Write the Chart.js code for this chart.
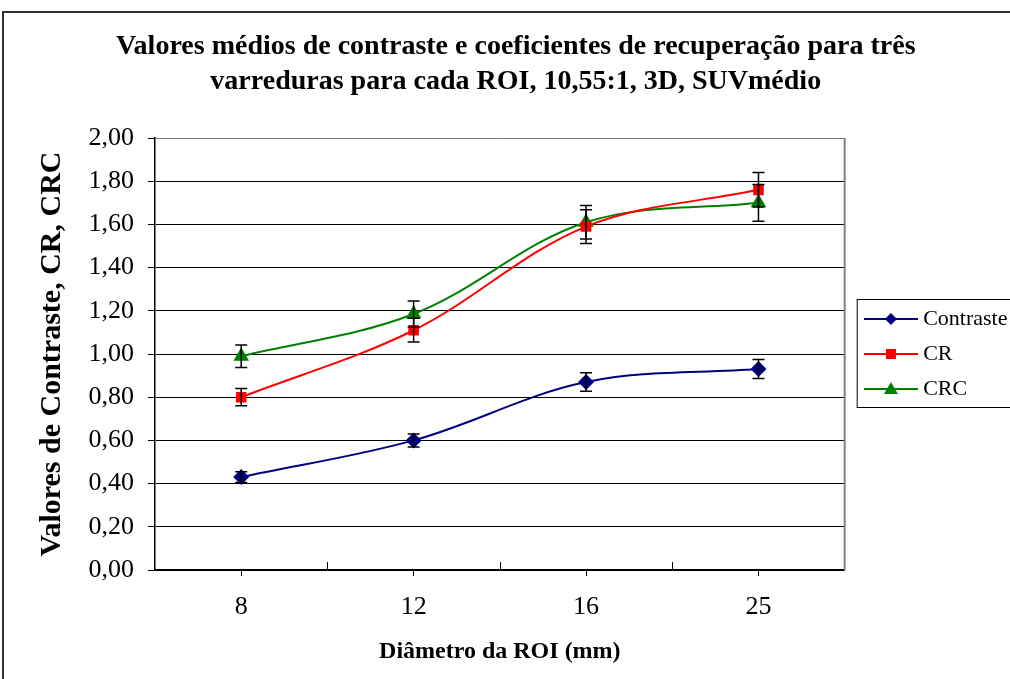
<!DOCTYPE html>
<html lang="pt">
<head>
<meta charset="utf-8">
<title>Valores médios de contraste e coeficientes de recuperação</title>
<script src="https://cdn.jsdelivr.net/npm/chart.js@4.4.1/dist/chart.umd.min.js"></script>
<style>
  html, body { margin: 0; padding: 0; background: #fff; }
  #wrap { position: relative; width: 1010px; height: 679px; }
</style>
</head>
<body>
<div id="wrap"><canvas id="roiChart"></canvas></div>
<script>
// ROI diameters (mm)
const categories = ['8', '12', '16', '25'];

// mean values per series
const contraste = [0.43, 0.60, 0.87, 0.93];
const cr = [0.80, 1.11, 1.59, 1.76];
const crc = [0.99, 1.185, 1.61, 1.70];

// +/- error per point
const contrasteErr = [0.025, 0.03, 0.043, 0.044];
const crErr = [0.04, 0.055, 0.078, 0.08];
const crcErr = [0.052, 0.06, 0.078, 0.085];

const yTicks = [0, 0.2, 0.4, 0.6, 0.8, 1.0, 1.2, 1.4, 1.6, 1.8, 2.0];

const SERIF = "'Liberation Serif', 'Times New Roman', serif";
const errorSets = [contrasteErr, crErr, crcErr];

// Small line+marker sample for the legend, like Excel's
function legendIcon(color, shape) {
  const c = document.createElement('canvas');
  c.width = 66;
  c.height = 22;
  const g = c.getContext('2d');
  const cy = 11, cx = 39;
  g.strokeStyle = color;
  g.lineWidth = 2;
  g.beginPath();
  g.moveTo(12, cy);
  g.lineTo(66, cy);
  g.stroke();
  g.fillStyle = color;
  g.beginPath();
  if (shape === 'diamond') {
    g.moveTo(cx - 6, cy); g.lineTo(cx, cy - 6); g.lineTo(cx + 6, cy); g.lineTo(cx, cy + 6);
  } else if (shape === 'square') {
    g.rect(cx - 5, cy - 5, 10, 10);
  } else {
    g.moveTo(cx, cy - 7); g.lineTo(cx + 7, cy + 5); g.lineTo(cx - 7, cy + 5);
  }
  g.closePath();
  g.fill();
  return c;
}

const legendIcons = [
  legendIcon('#000080', 'diamond'),
  legendIcon('#FF0000', 'square'),
  legendIcon('#008000', 'triangle')
];

const errorBarPlugin = {
  id: 'errorBars',
  afterDatasetsDraw(chart) {
    const { ctx, scales: { x, y } } = chart;
    ctx.save();
    ctx.strokeStyle = '#000';
    ctx.lineWidth = 1.5;
    errorSets.forEach((errs, di) => {
      const vals = chart.data.datasets[di].data;
      errs.forEach((e, i) => {
        const px = x.getPixelForValue(i);
        const top = y.getPixelForValue(vals[i] + e);
        const bot = y.getPixelForValue(vals[i] - e);
        ctx.beginPath();
        ctx.moveTo(px, top); ctx.lineTo(px, bot);
        ctx.moveTo(px - 6, top); ctx.lineTo(px + 6, top);
        ctx.moveTo(px - 6, bot); ctx.lineTo(px + 6, bot);
        ctx.stroke();
      });
    });
    ctx.restore();
  }
};

const framePlugin = {
  id: 'frames',
  beforeDraw(chart) {
    const { ctx, width, height } = chart;
    ctx.save();
    ctx.fillStyle = '#fff';
    ctx.fillRect(0, 0, width, height);
    ctx.restore();
  },
  afterDraw(chart) {
    const { ctx, chartArea, scales: { x } } = chart;
    ctx.save();
    // outer chart border (cut by the page edge)
    ctx.strokeStyle = '#333';
    ctx.lineWidth = 2;
    ctx.beginPath();
    ctx.moveTo(3, chart.height + 5);
    ctx.lineTo(3, 12);
    ctx.lineTo(chart.width + 5, 12);
    ctx.stroke();

    // plot area right border
    ctx.strokeStyle = '#808080';
    ctx.beginPath();
    ctx.moveTo(chartArea.right, chartArea.top);
    ctx.lineTo(chartArea.right, chartArea.bottom);
    ctx.stroke();

    // small inner ticks between categories
    ctx.strokeStyle = '#000';
    ctx.lineWidth = 1;
    ctx.beginPath();
    for (let i = 0; i < categories.length - 1; i++) {
      const bx = Math.round((x.getPixelForValue(i) + x.getPixelForValue(i + 1)) / 2) + 0.5;
      ctx.moveTo(bx, chartArea.bottom);
      ctx.lineTo(bx, chartArea.bottom - 8);
    }
    ctx.stroke();

    // legend box
    const lg = chart.legend;
    if (lg && lg.legendHitBoxes && lg.legendHitBoxes.length) {
      const hb = lg.legendHitBoxes;
      const first = hb[0], last = hb[hb.length - 1];
      const top = first.top + first.height / 2 - 20;
      const bottom = last.top + last.height / 2 + 18;
      ctx.strokeStyle = '#000';
      ctx.lineWidth = 1;
      ctx.strokeRect(lg.left + 12.5, Math.round(top) + 0.5, chart.width, Math.round(bottom - top));
    }
    ctx.restore();
  }
};

new Chart(document.getElementById('roiChart'), {
  type: 'line',
  data: {
    labels: categories,
    datasets: [
      {
        label: 'Contraste',
        data: contraste,
        borderColor: '#000080',
        backgroundColor: '#000080',
        borderWidth: 2,
        pointStyle: 'rectRot',
        pointRadius: 8,
        pointBorderWidth: 0,
        tension: 0.35
      },
      {
        label: 'CR',
        data: cr,
        borderColor: '#FF0000',
        backgroundColor: '#FF0000',
        borderWidth: 2,
        pointStyle: 'rect',
        pointRadius: 7.5,
        pointBorderWidth: 0,
        tension: 0.35
      },
      {
        label: 'CRC',
        data: crc,
        borderColor: '#008000',
        backgroundColor: '#008000',
        borderWidth: 2,
        pointStyle: 'triangle',
        pointRadius: 9,
        pointBorderWidth: 0,
        tension: 0.35
      }
    ]
  },
  options: {
    responsive: true,
    maintainAspectRatio: false,
    animation: false,
    layout: { padding: { left: 14, right: -7.5, top: 0, bottom: 0 } },
    plugins: {
      title: {
        display: true,
        text: [
          'Valores médios de contraste e coeficientes de recuperação para três',
          'varreduras para cada ROI, 10,55:1, 3D, SUVmédio'
        ],
        color: '#000',
        font: { family: SERIF, size: 28, weight: 'bold', lineHeight: 35 / 28 },
        padding: { top: 29.5, bottom: 38.5 }
      },
      legend: {
        position: 'right',
        align: 'center',
        fullSize: false,
        labels: {
          color: '#000',
          font: { family: SERIF, size: 22 },
          usePointStyle: true,
          pointStyleWidth: 54.5,
          padding: 13,
          generateLabels: chart => chart.data.datasets.map((ds, i) => ({
            text: ds.label,
            pointStyle: legendIcons[i],
            fillStyle: ds.borderColor,
            strokeStyle: ds.borderColor,
            lineWidth: 0,
            hidden: false,
            datasetIndex: i
          }))
        }
      },
      tooltip: { enabled: false }
    },
    scales: {
      x: {
        type: 'category',
        offset: true,
        afterFit: scale => { scale.height = 109; },
        grid: {
          offset: false,
          drawOnChartArea: false,
          drawTicks: true,
          tickLength: 6,
          tickColor: '#000'
        },
        border: { color: '#000', width: 1.5 },
        ticks: {
          color: '#000',
          font: { family: SERIF, size: 26 },
          padding: 16,
          maxRotation: 0
        },
        title: {
          display: true,
          text: 'Diâmetro da ROI (mm)',
          color: '#000',
          font: { family: SERIF, size: 24, weight: 'bold' },
          padding: { top: 0, bottom: 13 }
        }
      },
      y: {
        min: 0,
        max: 2,
        afterFit: scale => { scale.width = 141; },
        afterBuildTicks: scale => { scale.ticks = yTicks.map(v => ({ value: v })); },
        grid: {
          color: ctx => (ctx.tick && ctx.tick.value === 2 ? '#808080' : '#000'),
          lineWidth: 1,
          tickLength: 7,
          tickColor: '#000'
        },
        border: { color: '#000', width: 1.5 },
        ticks: {
          color: '#000',
          font: { family: SERIF, size: 26 },
          padding: 14,
          callback: v => v.toFixed(2).replace('.', ',')
        },
        title: {
          display: true,
          text: 'Valores de Contraste, CR, CRC',
          color: '#000',
          font: { family: SERIF, size: 30, weight: 'bold' },
          padding: { top: 20, bottom: 0 }
        }
      }
    }
  },
  plugins: [errorBarPlugin, framePlugin]
});
</script>
</body>
</html>
